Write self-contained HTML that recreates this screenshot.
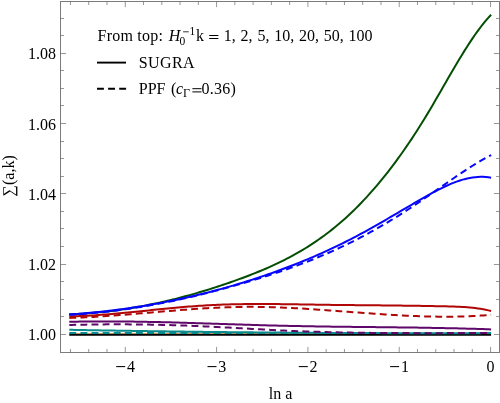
<!DOCTYPE html>
<html><head><meta charset="utf-8"><title>plot</title>
<style>
html,body{margin:0;padding:0;background:#fff;overflow:hidden;}
svg{display:block;}
text{font-family:"Liberation Serif",serif;font-size:16px;fill:#000;}
</style></head><body>
<svg width="500" height="403" viewBox="0 0 500 403">
<rect width="500" height="403" fill="#fff"/>
<path d="M69.30 334.85L491.10 334.85" fill="none" stroke="#000000" stroke-width="2.00"/>
<path d="M69.30 333.50L491.10 333.40" fill="none" stroke="#cc8f55" stroke-width="1.20"/>
<path d="M69.30 314.30L71.95 314.20L74.61 314.08L77.26 313.95L79.91 313.81L82.56 313.65L85.22 313.47L87.87 313.28L90.52 313.07L93.18 312.85L95.83 312.61L98.48 312.36L101.13 312.10L103.79 311.82L106.44 311.52L109.09 311.21L111.75 310.89L114.40 310.55L117.05 310.19L119.70 309.83L122.36 309.44L125.01 309.05L127.66 308.64L130.32 308.21L132.97 307.77L135.62 307.32L138.27 306.85L140.93 306.37L143.58 305.87L146.23 305.36L148.88 304.84L151.54 304.30L154.19 303.75L156.84 303.19L159.50 302.61L162.15 302.02L164.80 301.41L167.45 300.79L170.11 300.16L172.76 299.51L175.41 298.85L178.07 298.18L180.72 297.50L183.37 296.80L186.02 296.09L188.68 295.36L191.33 294.62L193.98 293.87L196.64 293.11L199.29 292.33L201.94 291.54L204.59 290.74L207.25 289.93L209.90 289.10L212.55 288.26L215.21 287.41L217.86 286.54L220.51 285.67L223.16 284.78L225.82 283.88L228.47 282.96L231.12 282.04L233.78 281.10L236.43 280.15L239.08 279.18L241.73 278.21L244.39 277.22L247.04 276.22L249.69 275.21L252.35 274.17L255.00 273.12L257.65 272.05L260.30 270.97L262.96 269.86L265.61 268.72L268.26 267.57L270.92 266.39L273.57 265.18L276.22 263.95L278.87 262.68L281.53 261.39L284.18 260.07L286.83 258.72L289.48 257.33L292.14 255.91L294.79 254.45L297.44 252.95L300.10 251.42L302.75 249.85L305.40 248.24L308.05 246.59L310.71 244.89L313.36 243.15L316.01 241.36L318.67 239.53L321.32 237.65L323.97 235.73L326.62 233.75L329.28 231.72L331.93 229.64L334.58 227.50L337.24 225.31L339.89 223.06L342.54 220.76L345.19 218.40L347.85 215.98L350.50 213.50L353.15 210.96L355.81 208.35L358.46 205.69L361.11 202.97L363.76 200.18L366.42 197.33L369.07 194.42L371.72 191.45L374.38 188.41L377.03 185.31L379.68 182.15L382.33 178.92L384.99 175.63L387.64 172.27L390.29 168.85L392.95 165.36L395.60 161.80L398.25 158.18L400.90 154.49L403.56 150.74L406.21 146.92L408.86 143.03L411.52 139.07L414.17 135.04L416.82 130.94L419.47 126.78L422.13 122.54L424.78 118.24L427.43 113.86L430.08 109.42L432.74 104.92L435.39 100.37L438.04 95.79L440.70 91.18L443.35 86.57L446.00 81.96L448.65 77.35L451.31 72.78L453.96 68.23L456.61 63.74L459.27 59.30L461.92 54.93L464.57 50.64L467.22 46.45L469.88 42.35L472.53 38.38L475.18 34.53L477.84 30.82L480.49 27.27L483.14 23.87L485.79 20.65L488.45 17.61L491.10 14.77" fill="none" stroke="#034e03" stroke-width="2.00"/>
<path d="M69.30 314.51L71.95 314.33L74.61 314.14L77.26 313.94L79.91 313.73L82.56 313.51L85.22 313.28L87.87 313.05L90.52 312.80L93.18 312.55L95.83 312.28L98.48 312.01L101.13 311.73L103.79 311.43L106.44 311.13L109.09 310.82L111.75 310.50L114.40 310.17L117.05 309.84L119.70 309.49L122.36 309.13L125.01 308.77L127.66 308.39L130.32 308.00L132.97 307.61L135.62 307.20L138.27 306.79L140.93 306.37L143.58 305.93L146.23 305.49L148.88 305.04L151.54 304.58L154.19 304.10L156.84 303.62L159.50 303.13L162.15 302.63L164.80 302.12L167.45 301.60L170.11 301.07L172.76 300.53L175.41 299.98L178.07 299.42L180.72 298.85L183.37 298.27L186.02 297.68L188.68 297.08L191.33 296.47L193.98 295.85L196.64 295.22L199.29 294.58L201.94 293.93L204.59 293.27L207.25 292.60L209.90 291.92L212.55 291.23L215.21 290.53L217.86 289.82L220.51 289.10L223.16 288.37L225.82 287.62L228.47 286.87L231.12 286.11L233.78 285.34L236.43 284.55L239.08 283.76L241.73 282.95L244.39 282.14L247.04 281.31L249.69 280.48L252.35 279.63L255.00 278.77L257.65 277.90L260.30 277.02L262.96 276.13L265.61 275.23L268.26 274.31L270.92 273.38L273.57 272.44L276.22 271.49L278.87 270.53L281.53 269.55L284.18 268.56L286.83 267.56L289.48 266.54L292.14 265.51L294.79 264.47L297.44 263.42L300.10 262.35L302.75 261.27L305.40 260.17L308.05 259.06L310.71 257.94L313.36 256.80L316.01 255.65L318.67 254.48L321.32 253.30L323.97 252.10L326.62 250.89L329.28 249.66L331.93 248.42L334.58 247.17L337.24 245.89L339.89 244.61L342.54 243.30L345.19 241.98L347.85 240.65L350.50 239.30L353.15 237.93L355.81 236.55L358.46 235.15L361.11 233.73L363.76 232.29L366.42 230.84L369.07 229.38L371.72 227.89L374.38 226.40L377.03 224.89L379.68 223.37L382.33 221.84L384.99 220.30L387.64 218.76L390.29 217.21L392.95 215.65L395.60 214.10L398.25 212.54L400.90 210.98L403.56 209.42L406.21 207.86L408.86 206.31L411.52 204.77L414.17 203.23L416.82 201.69L419.47 200.17L422.13 198.66L424.78 197.15L427.43 195.67L430.08 194.19L432.74 192.74L435.39 191.32L438.04 189.93L440.70 188.58L443.35 187.28L446.00 186.02L448.65 184.83L451.31 183.70L453.96 182.63L456.61 181.64L459.27 180.73L461.92 179.90L464.57 179.16L467.22 178.51L469.88 177.96L472.53 177.51L475.18 177.17L477.84 176.95L480.49 176.84L483.14 176.86L485.79 177.00L488.45 177.28L491.10 177.70" fill="none" stroke="#0606ff" stroke-width="2.00"/>
<path d="M69.30 316.50L71.95 316.42L74.61 316.34L77.26 316.24L79.91 316.12L82.56 316.00L85.22 315.86L87.87 315.71L90.52 315.56L93.18 315.39L95.83 315.21L98.48 315.02L101.13 314.83L103.79 314.62L106.44 314.41L109.09 314.20L111.75 313.97L114.40 313.74L117.05 313.50L119.70 313.26L122.36 313.01L125.01 312.76L127.66 312.50L130.32 312.24L132.97 311.98L135.62 311.72L138.27 311.45L140.93 311.18L143.58 310.91L146.23 310.64L148.88 310.37L151.54 310.10L154.19 309.83L156.84 309.56L159.50 309.30L162.15 309.03L164.80 308.77L167.45 308.52L170.11 308.26L172.76 308.01L175.41 307.76L178.07 307.52L180.72 307.29L183.37 307.06L186.02 306.84L188.68 306.62L191.33 306.41L193.98 306.21L196.64 306.02L199.29 305.83L201.94 305.66L204.59 305.49L207.25 305.34L209.90 305.19L212.55 305.06L215.21 304.94L217.86 304.82L220.51 304.71L223.16 304.61L225.82 304.52L228.47 304.44L231.12 304.37L233.78 304.30L236.43 304.25L239.08 304.19L241.73 304.15L244.39 304.11L247.04 304.08L249.69 304.06L252.35 304.04L255.00 304.02L257.65 304.01L260.30 304.01L262.96 304.01L265.61 304.02L268.26 304.03L270.92 304.04L273.57 304.06L276.22 304.08L278.87 304.11L281.53 304.14L284.18 304.17L286.83 304.20L289.48 304.23L292.14 304.27L294.79 304.31L297.44 304.35L300.10 304.39L302.75 304.43L305.40 304.48L308.05 304.52L310.71 304.56L313.36 304.61L316.01 304.65L318.67 304.69L321.32 304.73L323.97 304.77L326.62 304.81L329.28 304.84L331.93 304.88L334.58 304.91L337.24 304.95L339.89 304.98L342.54 305.01L345.19 305.04L347.85 305.07L350.50 305.09L353.15 305.12L355.81 305.15L358.46 305.17L361.11 305.20L363.76 305.22L366.42 305.25L369.07 305.27L371.72 305.30L374.38 305.32L377.03 305.35L379.68 305.37L382.33 305.40L384.99 305.42L387.64 305.45L390.29 305.48L392.95 305.50L395.60 305.53L398.25 305.56L400.90 305.59L403.56 305.63L406.21 305.66L408.86 305.69L411.52 305.73L414.17 305.77L416.82 305.80L419.47 305.84L422.13 305.89L424.78 305.93L427.43 305.98L430.08 306.02L432.74 306.07L435.39 306.13L438.04 306.18L440.70 306.24L443.35 306.30L446.00 306.36L448.65 306.43L451.31 306.50L453.96 306.59L456.61 306.69L459.27 306.81L461.92 306.95L464.57 307.11L467.22 307.31L469.88 307.54L472.53 307.80L475.18 308.11L477.84 308.46L480.49 308.86L483.14 309.30L485.79 309.81L488.45 310.37L491.10 310.99" fill="none" stroke="#b00606" stroke-width="2.00"/>
<path d="M69.30 321.79L71.95 321.73L74.61 321.68L77.26 321.63L79.91 321.59L82.56 321.55L85.22 321.52L87.87 321.49L90.52 321.46L93.18 321.44L95.83 321.43L98.48 321.42L101.13 321.41L103.79 321.41L106.44 321.41L109.09 321.41L111.75 321.42L114.40 321.43L117.05 321.44L119.70 321.46L122.36 321.49L125.01 321.51L127.66 321.54L130.32 321.57L132.97 321.61L135.62 321.64L138.27 321.69L140.93 321.73L143.58 321.78L146.23 321.82L148.88 321.88L151.54 321.93L154.19 321.99L156.84 322.04L159.50 322.11L162.15 322.17L164.80 322.23L167.45 322.30L170.11 322.37L172.76 322.44L175.41 322.51L178.07 322.58L180.72 322.66L183.37 322.74L186.02 322.81L188.68 322.89L191.33 322.97L193.98 323.05L196.64 323.13L199.29 323.22L201.94 323.30L204.59 323.38L207.25 323.47L209.90 323.55L212.55 323.64L215.21 323.73L217.86 323.81L220.51 323.90L223.16 323.99L225.82 324.07L228.47 324.16L231.12 324.24L233.78 324.33L236.43 324.42L239.08 324.50L241.73 324.58L244.39 324.67L247.04 324.75L249.69 324.83L252.35 324.91L255.00 324.99L257.65 325.07L260.30 325.15L262.96 325.23L265.61 325.30L268.26 325.38L270.92 325.45L273.57 325.52L276.22 325.59L278.87 325.66L281.53 325.72L284.18 325.79L286.83 325.85L289.48 325.91L292.14 325.96L294.79 326.02L297.44 326.07L300.10 326.12L302.75 326.17L305.40 326.22L308.05 326.27L310.71 326.31L313.36 326.36L316.01 326.40L318.67 326.44L321.32 326.48L323.97 326.52L326.62 326.56L329.28 326.59L331.93 326.63L334.58 326.66L337.24 326.70L339.89 326.73L342.54 326.76L345.19 326.79L347.85 326.82L350.50 326.85L353.15 326.88L355.81 326.91L358.46 326.94L361.11 326.97L363.76 327.00L366.42 327.03L369.07 327.06L371.72 327.08L374.38 327.11L377.03 327.14L379.68 327.17L382.33 327.20L384.99 327.23L387.64 327.26L390.29 327.29L392.95 327.32L395.60 327.35L398.25 327.38L400.90 327.41L403.56 327.44L406.21 327.48L408.86 327.51L411.52 327.55L414.17 327.59L416.82 327.62L419.47 327.66L422.13 327.70L424.78 327.75L427.43 327.79L430.08 327.83L432.74 327.88L435.39 327.93L438.04 327.97L440.70 328.03L443.35 328.08L446.00 328.13L448.65 328.19L451.31 328.25L453.96 328.31L456.61 328.37L459.27 328.43L461.92 328.50L464.57 328.57L467.22 328.64L469.88 328.71L472.53 328.79L475.18 328.87L477.84 328.95L480.49 329.03L483.14 329.12L485.79 329.21L488.45 329.30L491.10 329.40" fill="none" stroke="#5e0869" stroke-width="2.00"/>
<path d="M69.30 329.80L71.95 329.85L74.61 329.90L77.26 329.95L79.91 330.00L82.56 330.04L85.22 330.09L87.87 330.14L90.52 330.19L93.18 330.24L95.83 330.28L98.48 330.33L101.13 330.38L103.79 330.42L106.44 330.47L109.09 330.51L111.75 330.56L114.40 330.60L117.05 330.65L119.70 330.69L122.36 330.73L125.01 330.77L127.66 330.82L130.32 330.86L132.97 330.90L135.62 330.94L138.27 330.98L140.93 331.02L143.58 331.06L146.23 331.10L148.88 331.14L151.54 331.18L154.19 331.22L156.84 331.26L159.50 331.29L162.15 331.33L164.80 331.37L167.45 331.41L170.11 331.44L172.76 331.48L175.41 331.51L178.07 331.55L180.72 331.58L183.37 331.62L186.02 331.65L188.68 331.68L191.33 331.72L193.98 331.75L196.64 331.78L199.29 331.81L201.94 331.85L204.59 331.88L207.25 331.91L209.90 331.94L212.55 331.97L215.21 332.00L217.86 332.03L220.51 332.06L223.16 332.09L225.82 332.11L228.47 332.14L231.12 332.17L233.78 332.20L236.43 332.22L239.08 332.25L241.73 332.27L244.39 332.30L247.04 332.33L249.69 332.35L252.35 332.37L255.00 332.40L257.65 332.42L260.30 332.45L262.96 332.47L265.61 332.49L268.26 332.51L270.92 332.54L273.57 332.56L276.22 332.58L278.87 332.60L281.53 332.62L284.18 332.64L286.83 332.66L289.48 332.68L292.14 332.70L294.79 332.72L297.44 332.73L300.10 332.75L302.75 332.77L305.40 332.79L308.05 332.80L310.71 332.82L313.36 332.84L316.01 332.85L318.67 332.87L321.32 332.88L323.97 332.90L326.62 332.91L329.28 332.92L331.93 332.94L334.58 332.95L337.24 332.96L339.89 332.98L342.54 332.99L345.19 333.00L347.85 333.01L350.50 333.02L353.15 333.03L355.81 333.04L358.46 333.05L361.11 333.06L363.76 333.07L366.42 333.08L369.07 333.09L371.72 333.10L374.38 333.11L377.03 333.11L379.68 333.12L382.33 333.13L384.99 333.13L387.64 333.14L390.29 333.14L392.95 333.15L395.60 333.15L398.25 333.16L400.90 333.16L403.56 333.17L406.21 333.17L408.86 333.17L411.52 333.18L414.17 333.18L416.82 333.18L419.47 333.18L422.13 333.18L424.78 333.19L427.43 333.19L430.08 333.19L432.74 333.19L435.39 333.19L438.04 333.19L440.70 333.18L443.35 333.18L446.00 333.18L448.65 333.18L451.31 333.18L453.96 333.17L456.61 333.17L459.27 333.17L461.92 333.16L464.57 333.16L467.22 333.15L469.88 333.15L472.53 333.14L475.18 333.14L477.84 333.13L480.49 333.13L483.14 333.12L485.79 333.11L488.45 333.11L491.10 333.10" fill="none" stroke="#0a8a8a" stroke-width="2.00"/>
<path d="M69.30 333.00L71.95 333.00L74.61 333.01L77.26 333.01L79.91 333.02L82.56 333.02L85.22 333.02L87.87 333.03L90.52 333.03L93.18 333.04L95.83 333.04L98.48 333.05L101.13 333.05L103.79 333.05L106.44 333.06L109.09 333.06L111.75 333.06L114.40 333.07L117.05 333.07L119.70 333.07L122.36 333.08L125.01 333.08L127.66 333.08L130.32 333.08L132.97 333.09L135.62 333.09L138.27 333.09L140.93 333.09L143.58 333.10L146.23 333.10L148.88 333.10L151.54 333.10L154.19 333.10L156.84 333.10L159.50 333.10L162.15 333.10L164.80 333.10L167.45 333.10L170.11 333.10L172.76 333.10L175.41 333.10L178.07 333.10L180.72 333.10L183.37 333.10L186.02 333.10L188.68 333.10L191.33 333.10L193.98 333.10L196.64 333.10L199.29 333.10L201.94 333.10L204.59 333.10L207.25 333.10L209.90 333.10L212.55 333.10L215.21 333.10L217.86 333.10L220.51 333.10L223.16 333.10L225.82 333.10L228.47 333.10L231.12 333.10L233.78 333.10L236.43 333.10L239.08 333.10L241.73 333.10L244.39 333.10L247.04 333.10L249.69 333.10L252.35 333.10L255.00 333.10L257.65 333.10L260.30 333.10L262.96 333.10L265.61 333.10L268.26 333.10L270.92 333.10L273.57 333.10L276.22 333.10L278.87 333.10L281.53 333.10L284.18 333.10L286.83 333.10L289.48 333.10L292.14 333.10L294.79 333.10L297.44 333.10L300.10 333.10L302.75 333.10L305.40 333.10L308.05 333.10L310.71 333.10L313.36 333.10L316.01 333.10L318.67 333.10L321.32 333.10L323.97 333.10L326.62 333.10L329.28 333.10L331.93 333.10L334.58 333.10L337.24 333.10L339.89 333.10L342.54 333.10L345.19 333.10L347.85 333.10L350.50 333.10L353.15 333.10L355.81 333.10L358.46 333.10L361.11 333.10L363.76 333.10L366.42 333.10L369.07 333.10L371.72 333.10L374.38 333.10L377.03 333.10L379.68 333.10L382.33 333.10L384.99 333.10L387.64 333.10L390.29 333.10L392.95 333.10L395.60 333.10L398.25 333.10L400.90 333.10L403.56 333.10L406.21 333.10L408.86 333.10L411.52 333.10L414.17 333.10L416.82 333.10L419.47 333.10L422.13 333.10L424.78 333.10L427.43 333.10L430.08 333.10L432.74 333.10L435.39 333.10L438.04 333.10L440.70 333.10L443.35 333.10L446.00 333.10L448.65 333.10L451.31 333.10L453.96 333.10L456.61 333.10L459.27 333.10L461.92 333.10L464.57 333.10L467.22 333.10L469.88 333.10L472.53 333.10L475.18 333.10L477.84 333.10L480.49 333.10L483.14 333.10L485.79 333.10L488.45 333.10L491.10 333.10" fill="none" stroke="#0a8a8a" stroke-width="2.00" stroke-dasharray="6.9 4.21"/>
<path d="M69.30 325.00L71.95 324.93L74.61 324.86L77.26 324.80L79.91 324.74L82.56 324.69L85.22 324.64L87.87 324.59L90.52 324.55L93.18 324.51L95.83 324.47L98.48 324.44L101.13 324.41L103.79 324.39L106.44 324.37L109.09 324.36L111.75 324.35L114.40 324.34L117.05 324.34L119.70 324.34L122.36 324.35L125.01 324.35L127.66 324.37L130.32 324.38L132.97 324.40L135.62 324.43L138.27 324.46L140.93 324.49L143.58 324.53L146.23 324.57L148.88 324.61L151.54 324.66L154.19 324.71L156.84 324.76L159.50 324.82L162.15 324.89L164.80 324.95L167.45 325.02L170.11 325.10L172.76 325.17L175.41 325.25L178.07 325.34L180.72 325.43L183.37 325.52L186.02 325.61L188.68 325.71L191.33 325.82L193.98 325.92L196.64 326.03L199.29 326.14L201.94 326.26L204.59 326.38L207.25 326.50L209.90 326.63L212.55 326.76L215.21 326.89L217.86 327.03L220.51 327.17L223.16 327.31L225.82 327.45L228.47 327.59L231.12 327.74L233.78 327.88L236.43 328.03L239.08 328.18L241.73 328.33L244.39 328.48L247.04 328.62L249.69 328.77L252.35 328.92L255.00 329.07L257.65 329.21L260.30 329.36L262.96 329.50L265.61 329.64L268.26 329.78L270.92 329.92L273.57 330.05L276.22 330.18L278.87 330.31L281.53 330.44L284.18 330.56L286.83 330.68L289.48 330.80L292.14 330.91L294.79 331.02L297.44 331.13L300.10 331.23L302.75 331.33L305.40 331.42L308.05 331.51L310.71 331.60L313.36 331.69L316.01 331.77L318.67 331.85L321.32 331.93L323.97 332.00L326.62 332.07L329.28 332.14L331.93 332.20L334.58 332.27L337.24 332.33L339.89 332.38L342.54 332.44L345.19 332.49L347.85 332.54L350.50 332.59L353.15 332.63L355.81 332.67L358.46 332.71L361.11 332.75L363.76 332.79L366.42 332.82L369.07 332.85L371.72 332.88L374.38 332.91L377.03 332.94L379.68 332.96L382.33 332.98L384.99 333.00L387.64 333.02L390.29 333.04L392.95 333.06L395.60 333.07L398.25 333.08L400.90 333.09L403.56 333.10L406.21 333.11L408.86 333.12L411.52 333.13L414.17 333.13L416.82 333.13L419.47 333.14L422.13 333.14L424.78 333.14L427.43 333.14L430.08 333.14L432.74 333.14L435.39 333.13L438.04 333.13L440.70 333.13L443.35 333.12L446.00 333.12L448.65 333.11L451.31 333.10L453.96 333.10L456.61 333.09L459.27 333.08L461.92 333.08L464.57 333.07L467.22 333.06L469.88 333.05L472.53 333.05L475.18 333.04L477.84 333.03L480.49 333.02L483.14 333.02L485.79 333.01L488.45 333.00L491.10 333.00" fill="none" stroke="#5e0869" stroke-width="2.00" stroke-dasharray="6.9 4.21"/>
<path d="M69.30 317.91L71.95 317.84L74.61 317.75L77.26 317.65L79.91 317.54L82.56 317.43L85.22 317.30L87.87 317.17L90.52 317.03L93.18 316.88L95.83 316.73L98.48 316.57L101.13 316.40L103.79 316.23L106.44 316.05L109.09 315.87L111.75 315.68L114.40 315.48L117.05 315.28L119.70 315.08L122.36 314.87L125.01 314.67L127.66 314.45L130.32 314.24L132.97 314.02L135.62 313.80L138.27 313.58L140.93 313.35L143.58 313.13L146.23 312.90L148.88 312.67L151.54 312.45L154.19 312.22L156.84 311.99L159.50 311.77L162.15 311.55L164.80 311.32L167.45 311.10L170.11 310.88L172.76 310.67L175.41 310.45L178.07 310.24L180.72 310.03L183.37 309.83L186.02 309.63L188.68 309.43L191.33 309.24L193.98 309.06L196.64 308.87L199.29 308.70L201.94 308.53L204.59 308.37L207.25 308.21L209.90 308.06L212.55 307.92L215.21 307.78L217.86 307.66L220.51 307.54L223.16 307.43L225.82 307.33L228.47 307.23L231.12 307.15L233.78 307.08L236.43 307.02L239.08 306.96L241.73 306.92L244.39 306.89L247.04 306.87L249.69 306.86L252.35 306.87L255.00 306.88L257.65 306.91L260.30 306.94L262.96 306.98L265.61 307.04L268.26 307.10L270.92 307.17L273.57 307.25L276.22 307.34L278.87 307.44L281.53 307.54L284.18 307.65L286.83 307.77L289.48 307.90L292.14 308.03L294.79 308.17L297.44 308.31L300.10 308.46L302.75 308.62L305.40 308.78L308.05 308.95L310.71 309.11L313.36 309.29L316.01 309.47L318.67 309.65L321.32 309.83L323.97 310.02L326.62 310.21L329.28 310.40L331.93 310.60L334.58 310.79L337.24 310.99L339.89 311.19L342.54 311.39L345.19 311.59L347.85 311.79L350.50 311.99L353.15 312.19L355.81 312.39L358.46 312.59L361.11 312.78L363.76 312.98L366.42 313.17L369.07 313.37L371.72 313.56L374.38 313.74L377.03 313.93L379.68 314.11L382.33 314.28L384.99 314.46L387.64 314.63L390.29 314.79L392.95 314.95L395.60 315.11L398.25 315.25L400.90 315.40L403.56 315.54L406.21 315.67L408.86 315.79L411.52 315.91L414.17 316.02L416.82 316.12L419.47 316.22L422.13 316.31L424.78 316.38L427.43 316.46L430.08 316.52L432.74 316.57L435.39 316.61L438.04 316.64L440.70 316.67L443.35 316.68L446.00 316.68L448.65 316.67L451.31 316.65L453.96 316.62L456.61 316.57L459.27 316.52L461.92 316.45L464.57 316.37L467.22 316.27L469.88 316.16L472.53 316.04L475.18 315.90L477.84 315.75L480.49 315.59L483.14 315.41L485.79 315.21L488.45 315.00L491.10 314.77" fill="none" stroke="#b00606" stroke-width="2.00" stroke-dasharray="6.9 4.21"/>
<path d="M69.30 314.81L71.95 314.67L74.61 314.51L77.26 314.35L79.91 314.17L82.56 313.98L85.22 313.78L87.87 313.57L90.52 313.34L93.18 313.11L95.83 312.86L98.48 312.60L101.13 312.33L103.79 312.04L106.44 311.75L109.09 311.44L111.75 311.13L114.40 310.80L117.05 310.46L119.70 310.11L122.36 309.75L125.01 309.37L127.66 308.99L130.32 308.60L132.97 308.19L135.62 307.78L138.27 307.35L140.93 306.92L143.58 306.47L146.23 306.02L148.88 305.55L151.54 305.08L154.19 304.59L156.84 304.10L159.50 303.59L162.15 303.08L164.80 302.55L167.45 302.02L170.11 301.47L172.76 300.92L175.41 300.36L178.07 299.79L180.72 299.21L183.37 298.62L186.02 298.02L188.68 297.42L191.33 296.80L193.98 296.18L196.64 295.54L199.29 294.90L201.94 294.25L204.59 293.60L207.25 292.93L209.90 292.26L212.55 291.57L215.21 290.88L217.86 290.19L220.51 289.48L223.16 288.77L225.82 288.05L228.47 287.32L231.12 286.58L233.78 285.84L236.43 285.09L239.08 284.33L241.73 283.56L244.39 282.79L247.04 282.01L249.69 281.22L252.35 280.43L255.00 279.62L257.65 278.81L260.30 277.99L262.96 277.16L265.61 276.31L268.26 275.46L270.92 274.60L273.57 273.73L276.22 272.85L278.87 271.95L281.53 271.05L284.18 270.13L286.83 269.20L289.48 268.26L292.14 267.31L294.79 266.34L297.44 265.37L300.10 264.37L302.75 263.37L305.40 262.35L308.05 261.31L310.71 260.26L313.36 259.20L316.01 258.12L318.67 257.03L321.32 255.92L323.97 254.79L326.62 253.65L329.28 252.50L331.93 251.32L334.58 250.13L337.24 248.92L339.89 247.69L342.54 246.45L345.19 245.18L347.85 243.90L350.50 242.60L353.15 241.28L355.81 239.94L358.46 238.58L361.11 237.21L363.76 235.81L366.42 234.39L369.07 232.95L371.72 231.49L374.38 230.01L377.03 228.50L379.68 226.98L382.33 225.44L384.99 223.88L387.64 222.30L390.29 220.70L392.95 219.08L395.60 217.44L398.25 215.79L400.90 214.11L403.56 212.42L406.21 210.71L408.86 208.99L411.52 207.24L414.17 205.48L416.82 203.70L419.47 201.91L422.13 200.10L424.78 198.27L427.43 196.44L430.08 194.60L432.74 192.75L435.39 190.89L438.04 189.04L440.70 187.18L443.35 185.33L446.00 183.48L448.65 181.64L451.31 179.80L453.96 177.98L456.61 176.17L459.27 174.38L461.92 172.61L464.57 170.86L467.22 169.13L469.88 167.44L472.53 165.77L475.18 164.14L477.84 162.54L480.49 160.98L483.14 159.47L485.79 157.99L488.45 156.57L491.10 155.19" fill="none" stroke="#0606ff" stroke-width="2.00" stroke-dasharray="6.9 4.21"/>
<rect x="60.5" y="1.5" width="439.0" height="351.0" fill="none" stroke="#7c7c7c" stroke-width="1"/>
<path d="M70.48 352.5v-3.5M70.48 1.5v3.5M88.74 352.5v-3.5M88.74 1.5v3.5M107.01 352.5v-3.5M107.01 1.5v3.5M125.27 352.5v-5.6M125.27 1.5v5.6M143.53 352.5v-3.5M143.53 1.5v3.5M161.80 352.5v-3.5M161.80 1.5v3.5M180.06 352.5v-3.5M180.06 1.5v3.5M198.33 352.5v-3.5M198.33 1.5v3.5M216.59 352.5v-5.6M216.59 1.5v5.6M234.85 352.5v-3.5M234.85 1.5v3.5M253.12 352.5v-3.5M253.12 1.5v3.5M271.38 352.5v-3.5M271.38 1.5v3.5M289.65 352.5v-3.5M289.65 1.5v3.5M307.91 352.5v-5.6M307.91 1.5v5.6M326.17 352.5v-3.5M326.17 1.5v3.5M344.44 352.5v-3.5M344.44 1.5v3.5M362.70 352.5v-3.5M362.70 1.5v3.5M380.97 352.5v-3.5M380.97 1.5v3.5M399.23 352.5v-5.6M399.23 1.5v5.6M417.49 352.5v-3.5M417.49 1.5v3.5M435.76 352.5v-3.5M435.76 1.5v3.5M454.02 352.5v-3.5M454.02 1.5v3.5M472.29 352.5v-3.5M472.29 1.5v3.5M490.55 352.5v-5.6M490.55 1.5v5.6M60.5 334.5h5.6M499.5 334.5h-5.6M60.5 316.5h3.5M499.5 316.5h-3.5M60.5 299.5h3.5M499.5 299.5h-3.5M60.5 281.5h3.5M499.5 281.5h-3.5M60.5 264.5h5.6M499.5 264.5h-5.6M60.5 246.5h3.5M499.5 246.5h-3.5M60.5 228.5h3.5M499.5 228.5h-3.5M60.5 211.5h3.5M499.5 211.5h-3.5M60.5 193.5h5.6M499.5 193.5h-5.6M60.5 176.5h3.5M499.5 176.5h-3.5M60.5 158.5h3.5M499.5 158.5h-3.5M60.5 141.5h3.5M499.5 141.5h-3.5M60.5 123.5h5.6M499.5 123.5h-5.6M60.5 105.5h3.5M499.5 105.5h-3.5M60.5 88.5h3.5M499.5 88.5h-3.5M60.5 70.5h3.5M499.5 70.5h-3.5M60.5 53.5h5.6M499.5 53.5h-5.6M60.5 35.5h3.5M499.5 35.5h-3.5M60.5 18.5h3.5M499.5 18.5h-3.5" fill="none" stroke="#5e5e5e" stroke-width="0.65"/>
<defs><filter id="g" filterUnits="userSpaceOnUse" x="0" y="0" width="500" height="403"><feOffset dx="0" dy="0"/></filter></defs>
<g filter="url(#g)">
<text x="56" y="340.4" text-anchor="end">1.00</text>
<text x="56" y="270.1" text-anchor="end">1.02</text>
<text x="56" y="199.8" text-anchor="end">1.04</text>
<text x="56" y="129.6" text-anchor="end">1.06</text>
<text x="56" y="59.3" text-anchor="end">1.08</text>
<path d="M116.2 366.6h9" stroke="#000" stroke-width="1.05"/>
<text x="127.0" y="371.6">4</text>
<path d="M207.5 366.6h9" stroke="#000" stroke-width="1.05"/>
<text x="218.3" y="371.6">3</text>
<path d="M298.8 366.6h9" stroke="#000" stroke-width="1.05"/>
<text x="309.6" y="371.6">2</text>
<path d="M390.1 366.6h9" stroke="#000" stroke-width="1.05"/>
<text x="400.9" y="371.6">1</text>
<text x="490.4" y="371.6" text-anchor="middle">0</text>

<text x="97.6" y="41" letter-spacing="0.22">From top:</text>
<text x="168.7" y="41" font-style="italic">H</text>
<text x="179.6" y="45.1" style="font-size:11.5px">0</text>
<path d="M183.1 31.8h5.7" stroke="#000" stroke-width="0.8"/>
<text x="189.4" y="34.7" style="font-size:11.5px">1</text>
<text x="196" y="41">k</text>
<path d="M209.2 35.5h9.2M209.2 38.5h9.2" stroke="#000" stroke-width="1"/>
<text x="223.8" y="41" word-spacing="0.8">1, 2, 5, 10, 20, 50, 100</text>
<path d="M97 62.6H126" stroke="#000" stroke-width="1.9"/>
<text x="138.8" y="68" letter-spacing="0.4">SUGRA</text>
<path d="M97 88.8H126.1" stroke="#000" stroke-width="1.9" stroke-dasharray="6.9 4.21"/>
<text x="138.8" y="94.2">PPF</text>
<text x="171" y="94.2">(</text>
<text x="176.0" y="94.2" font-style="italic">c</text>
<text x="183.1" y="96.9" style="font-size:12px">&#915;</text>
<path d="M192.4 88.7h9.1M192.4 91.9h9.1" stroke="#000" stroke-width="1"/>
<text x="201.4" y="94.2" letter-spacing="0.25">0.36)</text>


<text x="280.6" y="399" text-anchor="middle">ln a</text>
<text transform="translate(14.0,175.8) rotate(-90)" text-anchor="middle">&#8721;(a,k)</text>

</g>
</svg>
</body></html>
